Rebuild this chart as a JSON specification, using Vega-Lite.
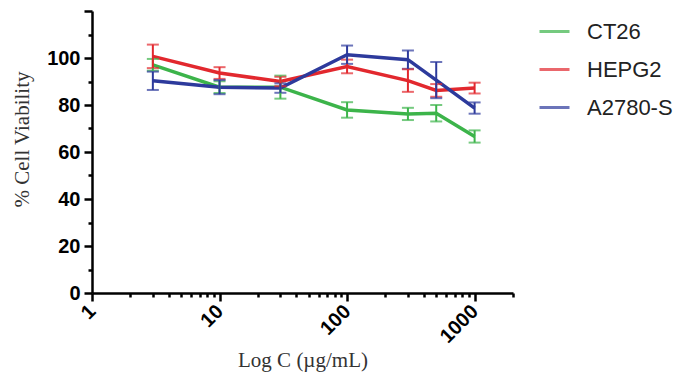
{
  "$schema": "https://vega.github.io/schema/vega-lite/v6.json",
  "autosize": {"type": "none"},
  "padding": {"left": 92, "top": 11, "right": 169, "bottom": 88},
  "width": 421,
  "height": 282,
  "background": "white",
  "config": {"view": {"stroke": null}},
  "data": {"values": [
    {"series": "CT26", "conc": 3, "mean": 97.1, "sd": 2.5},
    {"series": "CT26", "conc": 10, "mean": 87.6, "sd": 2.5},
    {"series": "CT26", "conc": 30, "mean": 87.6, "sd": 4.9},
    {"series": "CT26", "conc": 100, "mean": 77.9, "sd": 3.3},
    {"series": "CT26", "conc": 300, "mean": 76.2, "sd": 2.6},
    {"series": "CT26", "conc": 500, "mean": 76.5, "sd": 3.5},
    {"series": "CT26", "conc": 1000, "mean": 66.6, "sd": 2.6},
    {"series": "HEPG2", "conc": 3, "mean": 100.7, "sd": 5.0},
    {"series": "HEPG2", "conc": 10, "mean": 93.6, "sd": 2.5},
    {"series": "HEPG2", "conc": 30, "mean": 90.0, "sd": 2.0},
    {"series": "HEPG2", "conc": 100, "mean": 96.4, "sd": 2.9},
    {"series": "HEPG2", "conc": 300, "mean": 90.4, "sd": 4.8},
    {"series": "HEPG2", "conc": 500, "mean": 86.2, "sd": 2.7},
    {"series": "HEPG2", "conc": 1000, "mean": 87.2, "sd": 2.3},
    {"series": "A2780-S", "conc": 3, "mean": 90.3, "sd": 3.9},
    {"series": "A2780-S", "conc": 10, "mean": 87.6, "sd": 3.0},
    {"series": "A2780-S", "conc": 30, "mean": 87.2, "sd": 2.0},
    {"series": "A2780-S", "conc": 100, "mean": 101.4, "sd": 3.9},
    {"series": "A2780-S", "conc": 300, "mean": 99.3, "sd": 3.9},
    {"series": "A2780-S", "conc": 500, "mean": 90.6, "sd": 7.7},
    {"series": "A2780-S", "conc": 1000, "mean": 78.7, "sd": 2.4}
  ]},
  "encoding": {
    "x": {
      "field": "conc", "type": "quantitative",
      "scale": {"type": "log", "domain": [1, 2000], "nice": false},
      "axis": {
        "title": "Log C (µg/mL)",
        "titleFont": "Liberation Serif", "titleFontWeight": "normal", "titleFontSize": 21, "titleColor": "#333",
        "titlePadding": 3,
        "values": [1,2,3,4,5,6,7,8,9,10,20,30,40,50,60,70,80,90,100,200,300,400,500,600,700,800,900,1000,2000],
        "labelExpr": "indexof([1,10,100,1000], datum.value) >= 0 ? datum.label : ''",
        "format": "d",
        "labelAngle": -45, "labelAlign": "right", "labelBaseline": "middle",
        "labelFont": "Liberation Sans", "labelFontWeight": "bold", "labelFontSize": 20, "labelColor": "black",
        "labelPadding": 7, "labelOverlap": false, "labelFlush": false,
        "tickSize": {"condition": {"test": "indexof([1,10,100,1000], datum.value) >= 0", "value": 8}, "value": 4},
        "tickWidth": 2.5, "tickColor": "black",
        "domainColor": "black", "domainWidth": 2.5,
        "grid": false
      }
    },
    "y": {
      "field": "mean", "type": "quantitative",
      "scale": {"domain": [0, 120], "nice": false},
      "axis": {
        "title": "% Cell Viability",
        "titleFont": "Liberation Serif", "titleFontWeight": "normal", "titleFontSize": 21, "titleColor": "#333",
        "titlePadding": 14, "titleY": 128,
        "values": [0,10,20,30,40,50,60,70,80,90,100,110,120],
        "labelExpr": "datum.value % 20 == 0 && datum.value <= 100 ? datum.label : ''",
        "labelFont": "Liberation Sans", "labelFontWeight": "bold", "labelFontSize": 20, "labelColor": "black",
        "labelPadding": 4,
        "tickSize": {"condition": {"test": "datum.value % 20 == 0", "value": 8}, "value": 4},
        "tickWidth": 2.5, "tickColor": "black",
        "domainColor": "black", "domainWidth": 2.5,
        "grid": false
      }
    },
    "color": {
      "field": "series", "type": "nominal",
      "scale": {"domain": ["CT26", "HEPG2", "A2780-S"], "range": ["#3cb44a", "#e2282e", "#2d3a9c"]},
      "legend": {
        "title": null,
        "orient": "none", "legendX": 446, "legendY": 4,
        "symbolType": "stroke", "symbolSize": 900, "symbolStrokeWidth": 3,
        "labelFont": "Liberation Sans", "labelFontSize": 22, "labelColor": "#222",
        "labelOffset": 16, "rowPadding": 10
      }
    }
  },
  "layer": [
    {"mark": {"type": "line", "strokeWidth": 3.5}},
    {
      "mark": {"type": "errorbar", "thickness": 2, "ticks": {"size": 12, "thickness": 2}},
      "encoding": {
        "y": {"field": "mean", "type": "quantitative"},
        "yError": {"field": "sd"}
      }
    }
  ]
}
